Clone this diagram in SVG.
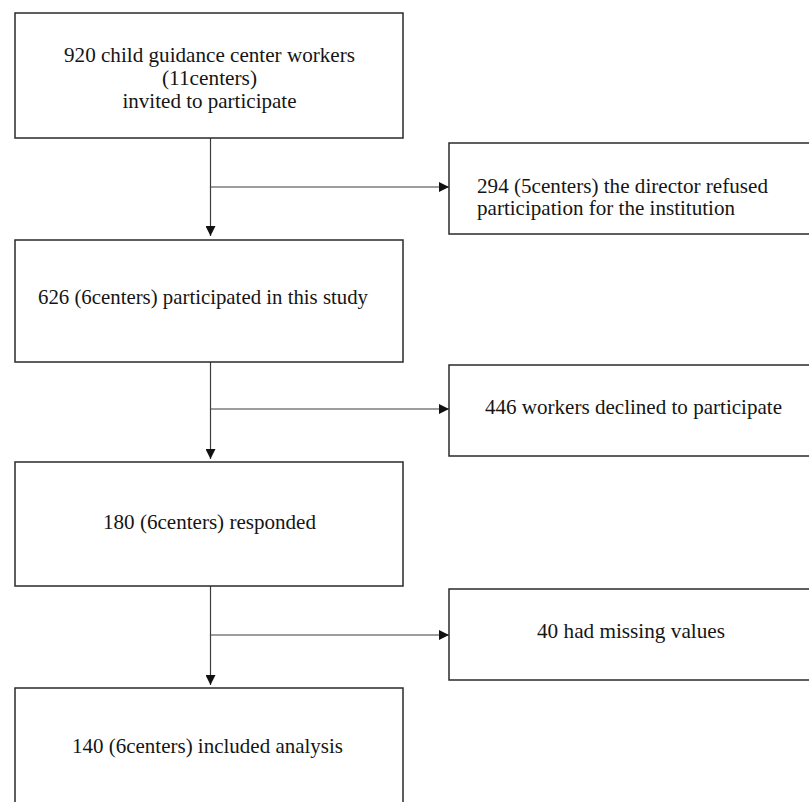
<svg xmlns="http://www.w3.org/2000/svg" width="809" height="802" viewBox="0 0 809 802">
<style>
.box{fill:#ffffff;stroke:#2a2a2a;stroke-width:1.5}
.conn{fill:none;stroke:#3c3c3c;stroke-width:1.2}
.t{font-family:'Liberation Serif','Times New Roman','DejaVu Serif',serif;font-size:21px;fill:#151515}
.c{text-anchor:middle}
</style>
<defs>
<marker id="arr" markerUnits="userSpaceOnUse" markerWidth="10" markerHeight="10" refX="10" refY="5" orient="auto">
<path d="M0,0 L10,5 L0,10 z" fill="#111"/>
</marker>
</defs>
<rect x="0" y="0" width="809" height="802" fill="#ffffff"/>
<g id="connectors">
<line class="conn" x1="210.5" y1="138" x2="210.5" y2="236" marker-end="url(#arr)"/>
<line class="conn" x1="210.5" y1="187" x2="449" y2="187" marker-end="url(#arr)"/>
<line class="conn" x1="210.5" y1="362" x2="210.5" y2="459" marker-end="url(#arr)"/>
<line class="conn" x1="210.5" y1="409" x2="449" y2="409" marker-end="url(#arr)"/>
<line class="conn" x1="210.5" y1="586" x2="210.5" y2="685" marker-end="url(#arr)"/>
<line class="conn" x1="210.5" y1="635" x2="449" y2="635" marker-end="url(#arr)"/>
</g>
<g id="n1">
<rect class="box" x="15" y="13" width="388" height="125"/>
<text class="t c" x="209.5" y="62" textLength="291" lengthAdjust="spacingAndGlyphs">920 child guidance center workers</text>
<text class="t c" x="209.5" y="85" textLength="95" lengthAdjust="spacingAndGlyphs">(11centers)</text>
<text class="t c" x="209.5" y="108" textLength="174" lengthAdjust="spacingAndGlyphs">invited to participate</text>
</g>
<g id="n2">
<rect class="box" x="449" y="143" width="380" height="91"/>
<text class="t" x="477" y="193" textLength="291" lengthAdjust="spacingAndGlyphs">294 (5centers) the director refused</text>
<text class="t" x="477" y="215" textLength="258" lengthAdjust="spacingAndGlyphs">participation for the institution</text>
</g>
<g id="n3">
<rect class="box" x="15" y="240" width="388" height="122"/>
<text class="t c" x="203" y="304" textLength="330" lengthAdjust="spacingAndGlyphs">626 (6centers) participated in this study</text>
</g>
<g id="n4">
<rect class="box" x="449" y="365" width="380" height="91"/>
<text class="t c" x="633.5" y="414" textLength="297" lengthAdjust="spacingAndGlyphs">446 workers declined to participate</text>
</g>
<g id="n5">
<rect class="box" x="15" y="462" width="388" height="124"/>
<text class="t c" x="209.5" y="529" textLength="213" lengthAdjust="spacingAndGlyphs">180 (6centers) responded</text>
</g>
<g id="n6">
<rect class="box" x="449" y="589" width="380" height="91"/>
<text class="t c" x="631" y="638" textLength="188" lengthAdjust="spacingAndGlyphs">40 had missing values</text>
</g>
<g id="n7">
<rect class="box" x="15" y="688" width="388" height="130"/>
<text class="t c" x="207.5" y="753" textLength="271" lengthAdjust="spacingAndGlyphs">140 (6centers) included analysis</text>
</g>
</svg>
